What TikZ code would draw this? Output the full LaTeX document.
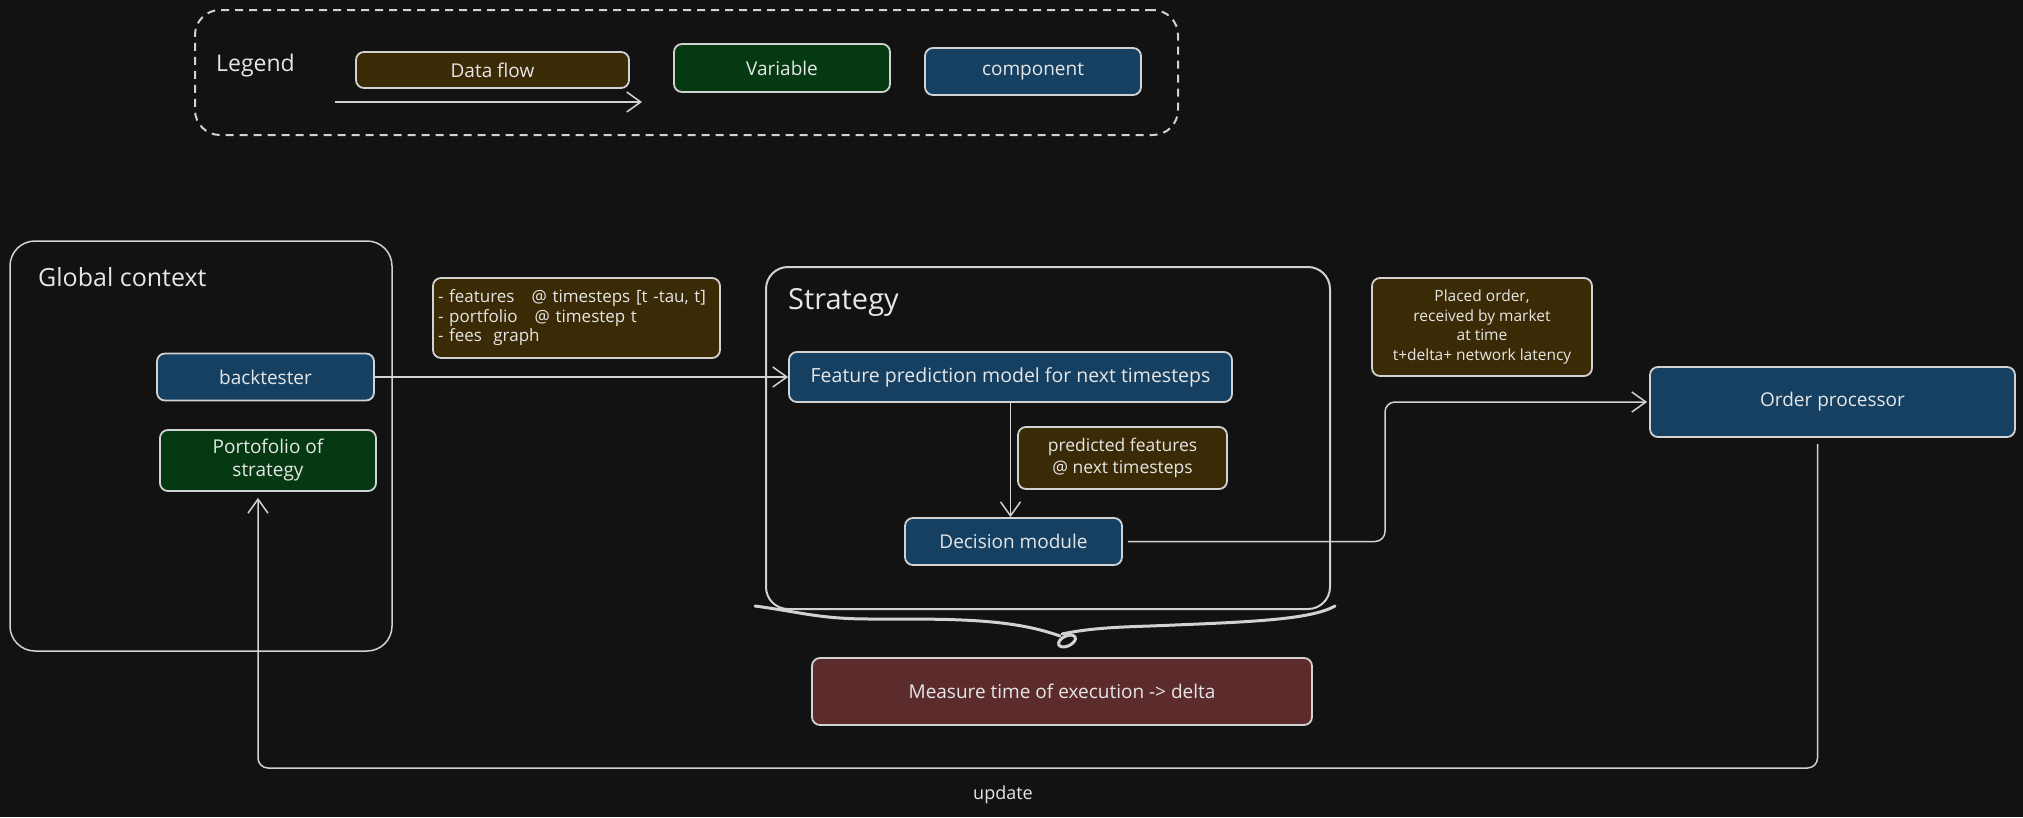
\documentclass[tikz,border=0pt]{standalone}
\usepackage{fontspec}
\setmainfont{Open Sans}
\usetikzlibrary{arrows.meta}
\definecolor{bg}{HTML}{121212}
\definecolor{strk}{HTML}{D2D2D2}
\definecolor{txt}{HTML}{E6E6E6}
\definecolor{flowc}{HTML}{3A2A05}
\definecolor{varc}{HTML}{043911}
\definecolor{compc}{HTML}{154062}
\definecolor{redc}{HTML}{5C2C2D}
\newcommand{\fsz}[2]{\fontsize{#1}{#2}\selectfont}
\begin{document}
\begin{tikzpicture}[x=1pt,y=-1pt,
  box/.style={draw=strk, line width=1.8pt, rounded corners=8pt, text=txt, align=center, inner sep=0pt, font=\fsz{19}{23}},
  comp/.style={box, fill=compc},
  var/.style={box, fill=varc},
  flow/.style={box, fill=flowc},
  container/.style={draw=strk, line width=1.5pt, rounded corners=25pt, inner sep=0pt},
  title/.style={anchor=west, text=txt, inner sep=0pt},
  arr/.style={draw=strk, line width=1.5pt, -{Straight Barb[length=14pt,width=20pt]}},
]
\fill[bg] (0,0) rectangle (2023,817);
\useasboundingbox (0,0) rectangle (2023,817);

% Legend
\node[container, dashed, dash pattern=on 8pt off 6pt, line width=2pt, minimum width=983, minimum height=125] (leg) at (686.5,72.5) {};
\node[title, font=\fsz{23}{27}] (legt) at (216,66) {Legend};
\node[flow, minimum width=273, minimum height=36] (ldf) at (492.5,70) {Data flow};
\coordinate (la1) at (335,102);
\coordinate (la2) at (642,102);
\draw[arr] (la1) -- (la2);
\node[var, minimum width=216, minimum height=48] (lvar) at (782,68) {Variable};
\node[comp, minimum width=216, minimum height=47] (lcomp) at (1033,71.5) {component};

% Global context
\node[container, minimum width=382, minimum height=410] (glob) at (201,446) {};
\node[title, font=\fsz{25}{29}] (globt) at (38,277) {Global context};
\node[comp, minimum width=217, minimum height=47] (bt) at (265.5,377) {backtester};
\node[var, minimum width=216, minimum height=61] (pf) at (268,460.5) {Portofolio of\\strategy};

% data label
\node[flow, minimum width=287, minimum height=80, text width=277, align=left, font=\fsz{17}{19.5}] (featl) at (576.5,318) {- features \ \ @ timesteps [t -tau, t]\\- portfolio \ \ @ timestep t\\- fees \ graph\\[4pt]};

% Strategy
\node[container, line width=2pt, rounded corners=22pt, minimum width=564, minimum height=342] (strat) at (1048,438) {};
\node[title, font=\fsz{29}{33}] (stratt) at (788,302) {Strategy};
\node[comp, minimum width=443, minimum height=50, font=\fsz{19.5}{23}] (fm) at (1010.5,377) {Feature prediction model for next timesteps};
\node[flow, minimum width=209, minimum height=62, font=\fsz{17.5}{22}] (pred) at (1122.5,458) {predicted features\\@ next timesteps};
\node[comp, minimum width=217, minimum height=47] (dm) at (1013.5,541.5) {Decision module};

% brace
\draw[strk, line width=3pt, line cap=round] (755,606) .. controls (800,612) and (820,619) .. (870,619) .. controls (950,619) and (1010,618) .. (1060,636);
\draw[strk, line width=3pt, line cap=round] (1062,634) .. controls (1090,628) and (1120,627) .. (1150,626) .. controls (1250,622) and (1310,620) .. (1335,606);
\draw[strk, line width=3pt, rotate around={25:(1067,641)}] (1067,641) ellipse [x radius=9, y radius=5];

\node[box, fill=redc, minimum width=500, minimum height=67] (meas) at (1062,691.5) {Measure time of execution -> delta};

% right side
\node[flow, minimum width=220, minimum height=98, font=\fsz{15.5}{19.5}] (placed) at (1482,327) {Placed order,\\received by market\\at time\\t+delta+ network latency};
\node[comp, minimum width=365, minimum height=70] (op) at (1832.5,402) {Order processor};

% connectors
\draw[arr] (bt.east) -- (fm.west);
\draw[arr] (fm.south) -- (fm.south |- dm.north);
\draw[arr, rounded corners=10pt] ([xshift=5pt]dm.east) -- (1385,541.5) -- (1385,402) -- ([xshift=-2pt]op.west);
\draw[arr, rounded corners=10pt] ([xshift=-15pt,yshift=-6pt]op.south) -- (1817.5,768) -- (258,768) -- ([xshift=-10pt,yshift=-6pt]pf.south);
\node[text=txt, font=\fsz{18}{22}] (upd) at (1003,795) {update};
\end{tikzpicture}
\end{document}
